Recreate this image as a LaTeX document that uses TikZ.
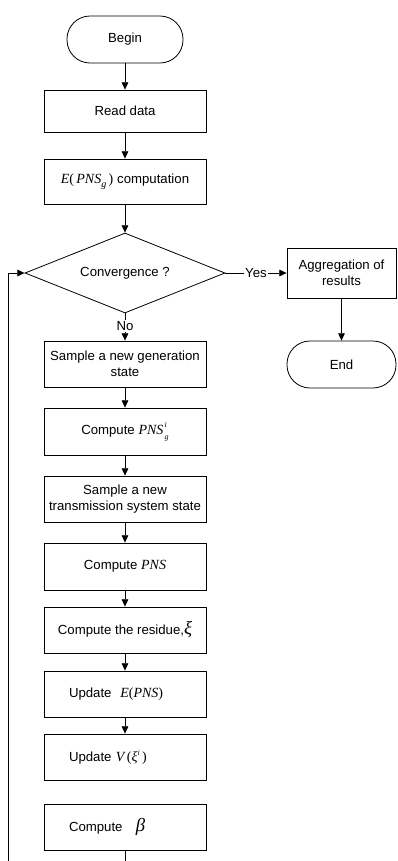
\documentclass[tikz,border=0pt]{standalone}
\usepackage{fontspec}
\usepackage{amsmath}
\setmainfont{Liberation Sans}
\newfontfamily\tms{Liberation Serif}
\usetikzlibrary{arrows.meta,shapes.geometric}
\newcommand{\mi}[1]{{\tms\itshape #1}}
\newcommand{\mup}[1]{{\tms #1}}
\newcommand{\supsub}[2]{\kern1pt\rlap{\raisebox{5.2pt}{\fontsize{6}{6}\selectfont\mi{#1}}}\raisebox{-3.6pt}{\fontsize{6}{6}\selectfont\mi{#2}}}
\begin{document}
\begin{tikzpicture}[x=0.75pt,y=-0.75pt,
  every node/.style={font=\fontsize{9.9}{12}\selectfont, text=black},
  conn/.style={line width=0.6pt, draw=black},
  arr/.style={conn, -{Triangle[length=5.5pt,width=5pt]}},
  boxs/.style={draw=black, line width=0.6pt, rectangle, minimum width={162*0.75pt}, inner sep=1pt, align=center},
  lbox/.style={boxs, text width={112*0.75pt}, inner xsep={25*0.75pt}, align=left},
  term/.style={draw=black, line width=0.6pt, rectangle, rounded corners={23*0.75pt}, inner sep=1pt},
  dia/.style={draw=black, line width=0.6pt, diamond, aspect=2.5, inner sep=0pt, minimum width={200*0.75pt}, minimum height={80*0.75pt}}
]
\useasboundingbox (0,0) rectangle (397,861);
\node[term, minimum width={116*0.75pt}, minimum height={47*0.75pt}] (begin) at (125,39.5) {Begin};
\node[boxs, minimum height={42*0.75pt}] (read) at (125,111) {Read data};
\node[boxs, minimum height={45*0.75pt}] (ecomp) at (125,181.5) {\fontsize{10.5}{12}\selectfont\mi{E}\mup{(}\,\mi{PNS}\raisebox{-3.2pt}{\fontsize{7.5}{7.5}\selectfont\mi{g}}\,\mup{)}\ \fontsize{9.9}{12}\selectfont computation};
\node[dia] (conv) at (125,273) {Convergence ?};
\node[boxs, minimum height={46*0.75pt}] (sgen) at (125,364) {Sample a new generation\\state};
\node[boxs, minimum height={47*0.75pt}] (cpg) at (125,431.5) {Compute {\fontsize{10.5}{12}\selectfont\mi{PNS}\supsub{i}{g}}};
\node[boxs, minimum height={46*0.75pt}] (strans) at (125,499) {Sample a new\\transmission system state};
\node[boxs, minimum height={47*0.75pt}] (cpns) at (125,566.5) {Compute {\fontsize{10.5}{12}\selectfont\mi{PNS}}};
\node[boxs, minimum height={46*0.75pt}] (resid) at (125,630) {Compute the residue,{\fontsize{14}{14}\selectfont\mi{ξ}}};
\node[lbox, minimum height={46*0.75pt}] (upe) at (125,694) {Update\ \ {\fontsize{10.5}{12}\selectfont\mi{E}\mup{(}\mi{PNS}\mup{)}}};
\node[lbox, minimum height={46*0.75pt}] (upv) at (125,757) {Update {\fontsize{10.5}{12}\selectfont\mi{V}\,\mup{(}\mi{ξ}\raisebox{4.6pt}{\fontsize{6}{6}\selectfont\mi{i}}\,\mup{)}}};
\node[lbox, minimum height={46*0.75pt}] (beta) at (125,827) {Compute\ \ \ {\fontsize{14}{14}\selectfont\mi{β}}};
\node[boxs, minimum width={109*0.75pt}, minimum height={50*0.75pt}] (agg) at (341.5,273) {Aggregation of\\results};
\node[term, minimum width={109*0.75pt}, minimum height={47*0.75pt}] (end) at (341.5,364.5) {End};
\coordinate (bend) at (125,861);
\coordinate (lbot) at (8,861);
\coordinate (lmid) at (8,273);
\draw[arr] (begin) -- (read);
\draw[arr] (read) -- (ecomp);
\draw[arr] (ecomp) -- (conv);
\draw[arr] (conv.east) -- node[fill=white, inner sep=1pt] {Yes} (agg.west);
\draw[arr] (conv.south) -- node[fill=white, inner sep=1pt, pos=0.45] {No} (sgen.north);
\draw[arr] (agg) -- (end);
\draw[arr] (sgen) -- (cpg);
\draw[arr] (cpg) -- (strans);
\draw[arr] (strans) -- (cpns);
\draw[arr] (cpns) -- (resid);
\draw[arr] (resid) -- (upe);
\draw[arr] (upe) -- (upv);
\draw[conn] (beta) -- (bend);
\draw[arr] (lbot) -- (lmid) -- (conv.west);
\end{tikzpicture}
\end{document}
